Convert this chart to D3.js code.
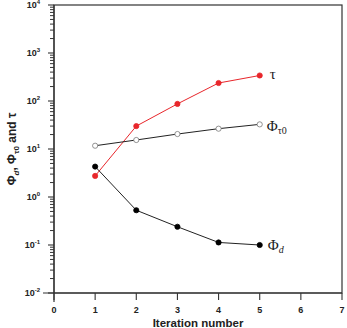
<!DOCTYPE html>
<html>
<head>
<meta charset="utf-8">
<script src="https://cdn.jsdelivr.net/npm/d3@7"></script>
<style>
  body { margin: 0; background: #fff; }
  svg { display: block; font-family: "Liberation Sans", Arial, sans-serif; }
</style>
</head>
<body>
<div id="chart"></div>
<script>
const iterations = [1, 2, 3, 4, 5];
const tau = [2.75, 30, 87, 237, 340];
const phiTau0 = [11.7, 15.4, 20.5, 26.5, 32.6];
const phiD = [4.3, 0.53, 0.24, 0.113, 0.10];
const xTicks = [0, 1, 2, 3, 4, 5, 6, 7];
const yExponents = [-2, -1, 0, 1, 2, 3, 4];

const width = 347, height = 328;
const margin = { left: 54, right: 5, top: 5, bottom: 35 };

const svg = d3.select("#chart").append("svg")
  .attr("width", width)
  .attr("height", height);

const x = d3.scaleLinear().domain([0, 7]).range([margin.left, width - margin.right]);
const y = d3.scaleLog().domain([1e-2, 1e4]).range([height - margin.bottom, margin.top]);

const x0 = x.range()[0], x1 = x.range()[1];
const yb = y.range()[0], yt = y.range()[1];

// frame
svg.append("rect")
  .attr("x", x0).attr("y", yt)
  .attr("width", x1 - x0).attr("height", yb - yt)
  .attr("fill", "none").attr("stroke", "#333").attr("stroke-width", 1.2);

// axis lines that overshoot a bit at the origin
svg.append("line").attr("x1", x0 - 11).attr("x2", x1).attr("y1", yb).attr("y2", yb)
  .attr("stroke", "#333").attr("stroke-width", 1.2);
svg.append("line").attr("x1", x0).attr("x2", x0).attr("y1", yt).attr("y2", yb + 9)
  .attr("stroke", "#333").attr("stroke-width", 1.2);

// x ticks
svg.selectAll(".xtick").data(xTicks).enter().append("line")
  .attr("x1", d => x(d)).attr("x2", d => x(d))
  .attr("y1", yb).attr("y2", yb + 7)
  .attr("stroke", "#333").attr("stroke-width", 1.1);
svg.selectAll(".xlab").data(xTicks).enter().append("text")
  .attr("x", d => x(d)).attr("y", yb + 20)
  .attr("text-anchor", "middle")
  .attr("font-size", 9).attr("font-weight", "bold").attr("fill", "#222")
  .text(d => d);

svg.append("text")
  .attr("x", (x0 + x1) / 2).attr("y", height - 1)
  .attr("text-anchor", "middle")
  .attr("font-size", 11.5).attr("font-weight", "bold").attr("fill", "#222")
  .text("Iteration number");

// y ticks (major + minor)
const minor = [];
yExponents.slice(0, -1).forEach(e => {
  for (let k = 2; k <= 9; k++) minor.push(k * Math.pow(10, e));
});
svg.selectAll(".ymin").data(minor).enter().append("line")
  .attr("x1", x0 - 4).attr("x2", x0)
  .attr("y1", d => y(d)).attr("y2", d => y(d))
  .attr("stroke", "#333").attr("stroke-width", 1);
svg.selectAll(".ymaj").data(yExponents).enter().append("line")
  .attr("x1", x0 - 6).attr("x2", x0)
  .attr("y1", d => y(Math.pow(10, d))).attr("y2", d => y(Math.pow(10, d)))
  .attr("stroke", "#333").attr("stroke-width", 1.1);

const ylab = svg.selectAll(".ylab").data(yExponents).enter().append("text")
  .attr("x", x0 - 14).attr("y", d => y(Math.pow(10, d)) + 3)
  .attr("text-anchor", "end")
  .attr("font-size", 9).attr("font-weight", "bold").attr("fill", "#222");
ylab.append("tspan").text("10");
ylab.append("tspan").attr("dy", -4).attr("font-size", 6).text(d => d);

// y title
const yt0 = svg.append("text")
  .attr("transform", `translate(16,${(yt + yb) / 2}) rotate(-90)`)
  .attr("text-anchor", "middle")
  .attr("font-size", 12).attr("font-weight", "bold").attr("fill", "#222");
yt0.append("tspan").text("Φ");
yt0.append("tspan").attr("font-size", 8).attr("font-style", "italic").attr("dy", 3).text("d");
yt0.append("tspan").attr("dy", -3).text(", Φ");
yt0.append("tspan").attr("font-size", 8).attr("dy", 3).text("τ0");
yt0.append("tspan").attr("dy", -3).text(" and τ");

// series
const line = d3.line().x(d => x(d[0])).y(d => y(d[1]));
const series = [
  { vals: tau, color: "#e8262b", fill: "#e8262b", line: "#e8262b" },
  { vals: phiTau0, color: "#777", fill: "#fff", line: "#222" },
  { vals: phiD, color: "#000", fill: "#000", line: "#222" }
];
series.forEach(s => {
  const pts = iterations.map((it, i) => [it, s.vals[i]]);
  svg.append("path").attr("d", line(pts))
    .attr("fill", "none").attr("stroke", s.line).attr("stroke-width", 1);
  svg.selectAll(null).data(pts).enter().append("circle")
    .attr("cx", d => x(d[0])).attr("cy", d => y(d[1]))
    .attr("r", 2.6)
    .attr("fill", s.fill).attr("stroke", s.color).attr("stroke-width", 0.8);
});

// series labels (serif, as in the reference)
const serif = "'Liberation Serif', 'Times New Roman', serif";
svg.append("text").attr("x", x(5) + 10).attr("y", y(tau[4]) + 4)
  .style("font-family", serif).attr("font-size", 15).attr("fill", "#222").text("τ");
const lt = svg.append("text").attr("x", x(5) + 7).attr("y", y(phiTau0[4]) + 7)
  .style("font-family", serif).attr("font-size", 15).attr("fill", "#222");
lt.append("tspan").text("Φ");
lt.append("tspan").attr("font-size", 10).attr("dy", 3).text("τ0");
const ld = svg.append("text").attr("x", x(5) + 8).attr("y", y(phiD[4]) + 5)
  .style("font-family", serif).attr("font-size", 15).attr("fill", "#222");
ld.append("tspan").text("Φ");
ld.append("tspan").attr("font-size", 10).attr("font-style", "italic").attr("dy", 3).text("d");
</script>
</body>
</html>
